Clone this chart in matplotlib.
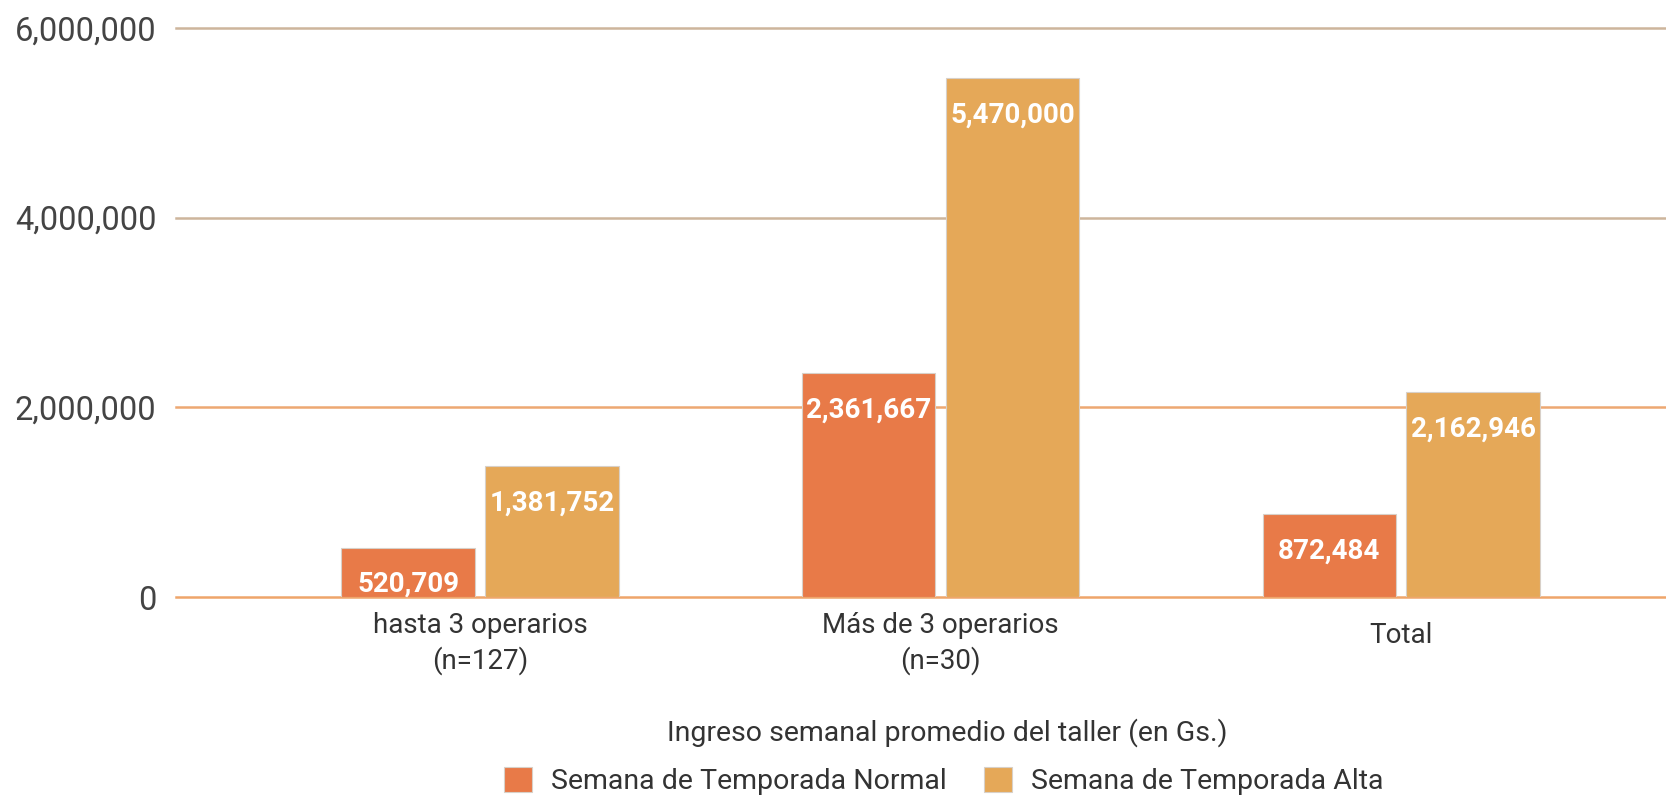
import matplotlib
matplotlib.use("Agg")
import matplotlib.pyplot as plt
import matplotlib.transforms as mtransforms
import numpy as np

categories = ["hasta 3 operarios\n(n=127)", "Más de 3 operarios\n(n=30)", "Total"]
series_names = ["Semana de Temporada Normal", "Semana de Temporada Alta"]
normal = [520709, 2361667, 872484]
alta = [1381752, 5470000, 2162946]
yticks = [0, 2000000, 4000000, 6000000]
ytick_labels = ["0", "2,000,000", "4,000,000", "6,000,000"]
xlabel = "Ingreso semanal promedio del taller (en Gs.)"

plt.rcParams['font.family'] = ['Roboto', 'DejaVu Sans']

fig = plt.figure(figsize=(16.66, 7.95), dpi=100)
ax = fig.add_axes([0.1056, 0.249, 0.8944, 0.716])

c_normal = "#E87A48"
c_alta = "#E5A858"
x = np.arange(len(categories))
w = 0.29
off = 0.156

grid_colors = ["#EFA56A", "#EDA872", "#CDB59C", "#CDB59C"]
for yv, gc in zip(yticks, grid_colors):
    ax.axhline(yv, color=gc, lw=1.8, zorder=1, clip_on=False)

b1 = ax.bar(x - off, normal, w, color=c_normal, edgecolor="#D8D0C8", linewidth=0.8, zorder=2, label=series_names[0])
b2 = ax.bar(x + off, alta, w, color=c_alta, edgecolor="#D8D0C8", linewidth=0.8, zorder=2, label=series_names[1])

for bars, vals in ((b1, normal), (b2, alta)):
    for rect, v in zip(bars, vals):
        ax.annotate(f"{v:,}", (rect.get_x() + rect.get_width() / 2, rect.get_height()),
                    xytext=(0, -37), textcoords="offset pixels", ha="center", va="center",
                    color="white", fontsize=20, fontweight="bold", zorder=3)

ax.set_xlim(-0.66, 2.575)
ax.set_ylim(0, 6000000)
ax.set_yticks(yticks)
ax.set_yticklabels(ytick_labels, fontsize=23.5, color="#444444")
ax.set_xticks(x)
ax.set_xticklabels(categories, fontsize=20, color="#333333", linespacing=1.3)
ax.tick_params(axis="y", length=0, pad=14)
ax.tick_params(axis="x", length=0, pad=11)
for s in ax.spines.values():
    s.set_visible(False)
lbls = ax.get_xticklabels()
lbls[2].set_transform(lbls[2].get_transform() + mtransforms.ScaledTranslation(0, -0.1, fig.dpi_scale_trans))

fig.text(947 / 1666, 1 - 733 / 795, xlabel, ha="center", va="center", fontsize=20.5, color="#333333")

leg = fig.legend(handles=[b1, b2], labels=series_names, loc="center left",
                 bbox_to_anchor=(504 / 1666, 1 - 781 / 795), ncol=2, frameon=False,
                 fontsize=20.5, handlelength=1.0, handleheight=1.0, handletextpad=0.65,
                 columnspacing=1.3, borderpad=0, borderaxespad=0)
for t in leg.get_texts():
    t.set_color("#333333")

fig.savefig("out.png", dpi=100)
